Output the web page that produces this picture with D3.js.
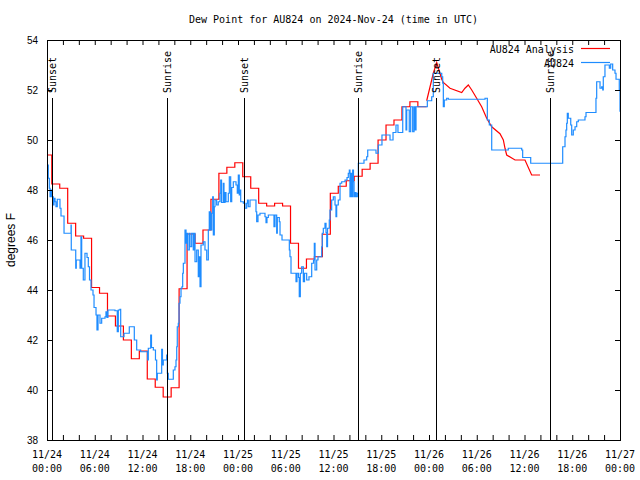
<!DOCTYPE html>
<html><head><meta charset="utf-8">
<script src="https://cdn.jsdelivr.net/npm/d3@7"></script>
<style>body{margin:0;background:#fff}</style>
</head><body>
<svg id="c" width="640" height="480"></svg>
<script>
const chartTitle = "Dew Point for AU824 on 2024-Nov-24 (time in UTC)";
const yAxisLabel = "degrees F";
const seriesNames = ["AU824 Analysis", "AU824"];
const seriesColors = ["#ff0000", "#1e8cff"];
const yTickValues = [38, 40, 42, 44, 46, 48, 50, 52, 54];
const xLabelHours = [0, 6, 12, 18, 24, 30, 36, 42, 48, 54, 60, 66, 72];
const xMinorHours = [0,2,4,6,8,10,12,14,16,18,20,22,24,26,28,30,32,34,36,38,40,42,44,46,48,50,52,54,56,58,60,62,64,66,68,70,72];
const sunEventHours = [0.69, 15.04, 24.79, 39.12, 48.88, 63.21];
const sunEventNames = ["Sunset", "Sunrise", "Sunset", "Sunrise", "Sunset", "Sunrise"];

// Analysis (red): hourly step part, then a continuous line part
const redStepHours = [0,0.6,1.6,2.6,3.6,4.6,5.6,6.6,7.6,8.6,9.6,10.6,11.6,12.6,13.6,14.6,15.6,16.6,17.6,18.6,19.6,20.6,21.6,22.6,23.6,24.6,25.6,26.6,27.6,28.6,29.6,30.6,31.6,32.6,33.6,34.6,35.6,36.6,37.6,38.6,39.6,40.6,41.6,42.6,43.6,44.6,45.6,46.6,47.71];
const redStepValues = [49.4,48.24,48.07,46.67,46.16,46.07,44.1,43.87,42.96,42.56,42.0,41.25,41.56,40.44,40.11,39.72,40.09,44.05,46.24,45.87,46.4,47.63,48.67,48.91,49.09,48.53,48.07,47.47,47.36,47.47,47.36,45.87,44.87,45.24,45.33,46.23,47.87,48.15,48.37,48.55,48.83,49.07,50.0,50.6,50.8,51.33,51.53,51.33,51.33];
const redLineHours = [47.71,48.54,48.97,49.60,49.80,50.64,52.11,52.52,52.94,53.37,53.99,54.62,55.25,55.88,56.92,57.34,57.55,57.76,58.81,60.06,60.90,61.95];
const redLineValues = [51.57,52.67,53.1,52.43,52.3,52.07,51.9,52.07,52.2,52.0,51.67,51.33,50.87,50.53,50.25,50.0,49.67,49.4,49.2,49.2,48.6,48.6];

// Observations (blue)
const blueHours = [0,0.16,0.29,0.38,0.50,0.57,0.79,0.88,1.01,1.13,1.29,1.63,1.76,2.14,3.02,3.05,3.61,3.68,4.15,4.27,4.36,4.56,4.77,5.03,5.19,5.34,5.53,5.78,5.91,6.16,6.28,6.41,6.66,6.87,7.29,7.41,7.54,7.66,8.54,8.83,8.96,9.17,9.26,9.68,10.34,10.97,11.27,11.77,12.65,12.73,13.03,13.13,13.36,13.63,13.78,13.86,14.41,14.51,14.61,15.04,15.12,15.24,15.87,16.08,16.21,16.30,16.37,16.50,16.59,16.71,16.84,16.96,17.05,17.13,17.34,17.47,17.55,17.68,17.88,17.97,18.18,18.38,18.51,18.60,18.81,19.01,19.14,19.23,19.35,19.64,19.85,20.07,20.27,20.39,20.54,20.70,20.82,20.90,21.02,21.11,21.32,21.52,21.74,21.83,21.93,22.15,22.24,22.37,22.49,22.78,22.91,23.08,23.21,23.41,23.75,23.91,24.04,24.16,24.25,24.34,24.67,24.88,25.09,25.19,25.29,25.51,26.26,26.35,26.51,26.76,27.39,27.52,27.64,27.81,28.52,28.65,28.86,28.94,29.19,29.28,29.53,30.45,30.53,30.66,31.29,31.41,31.60,31.70,31.83,32.00,32.21,32.36,32.63,32.92,33.26,33.49,33.59,33.68,33.89,34.05,34.52,34.59,34.72,34.93,35.06,35.15,35.25,35.47,35.56,35.77,35.98,36.19,36.31,36.40,36.60,36.82,37.03,37.45,37.70,37.86,37.99,38.07,38.16,38.29,38.41,38.51,38.58,38.70,38.83,38.99,39.12,39.83,40.17,40.30,41.34,41.63,42.09,43.10,43.48,43.85,44.10,44.70,45.11,45.20,45.52,45.70,45.95,46.12,46.24,46.37,47.79,48.34,48.54,49.60,49.72,49.80,49.92,50.22,50.43,55.04,55.33,55.58,55.88,57.96,59.65,59.77,60.78,64.80,65.09,65.21,65.30,65.38,65.50,65.81,65.93,66.13,66.35,66.56,66.76,67.60,67.73,68.98,69.07,69.49,69.70,69.83,69.90,70.11,70.66,70.83,71.08,71.37,71.50,71.91,72.0];
const blueValues = [49.0,48.47,48.07,47.73,48.0,47.73,47.4,47.67,47.53,47.33,47.63,47.27,46.96,46.27,46.6,45.6,44.87,45.2,44.87,46.13,44.87,44.4,45.47,45.3,44.93,44.4,44.0,43.8,43.3,43.0,42.4,43.0,42.67,42.87,42.93,43.13,42.9,43.2,43.17,42.33,43.2,43.23,42.13,42.27,42.53,42.0,41.6,41.53,41.2,41.67,42.2,41.7,41.6,41.2,40.4,40.67,41.63,41.0,41.2,41.4,40.67,40.43,40.8,40.93,41.2,41.73,42.53,42.67,43.47,43.73,44.07,44.13,44.67,45.07,46.4,45.87,46.27,45.6,46.27,45.73,46.27,45.6,46.27,45.13,45.6,44.53,45.33,44.13,45.8,45.93,45.6,45.2,46.4,47.13,46.4,47.07,47.73,46.2,47.33,47.6,47.4,47.53,47.87,48.4,47.5,48.27,47.5,47.9,47.53,47.87,48.53,47.53,48.1,48.33,48.2,47.87,48.6,47.8,48.0,47.53,47.47,47.27,47.47,47.6,47.33,47.6,47.13,46.73,47.0,47.07,46.93,46.69,46.9,47.0,46.53,47.0,46.27,46.9,46.73,46.2,46.0,45.6,45.33,44.67,44.33,44.67,44.5,43.73,44.67,44.93,44.33,44.67,44.4,44.53,45.07,45.2,45.87,44.8,45.2,45.33,45.73,46.27,46.47,46.67,46.3,45.73,46.47,46.8,47.2,47.6,47.73,47.4,46.93,47.4,47.6,48.27,48.33,48.4,48.5,48.67,48.8,47.73,48.67,47.73,48.8,48.33,47.73,47.9,47.73,47.87,49.07,49.2,49.33,49.6,49.47,49.8,50.2,50.0,50.3,50.6,50.3,51.33,50.4,51.2,50.33,51.33,50.33,51.33,50.4,51.33,51.57,51.73,52.67,52.53,52.27,51.33,51.6,51.67,51.63,51.67,50.8,50.6,49.6,49.67,49.6,49.3,49.07,49.73,50.13,50.4,50.67,51.07,50.87,50.6,50.2,50.4,50.53,50.73,50.8,50.93,51.1,51.67,52.33,52.07,52.13,52.0,52.53,53.0,52.87,53.04,52.8,52.67,52.43,52.0,51.13];

const MONO = "'DejaVu Sans Mono', monospace";
const SANS = "'Liberation Sans', Arial, sans-serif";
const svg = d3.select("#c");
svg.append("rect").attr("width",640).attr("height",480).attr("fill","#fff");

const t0 = Date.UTC(2024, 10, 24, 0, 0, 0);
const toDate = h => new Date(t0 + h * 3600e3);
const plot = {l: 47, r: 620, t: 40, b: 440};
const x = d3.scaleUtc().domain([toDate(0), toDate(72)]).range([plot.l, plot.r]);
const y = d3.scaleLinear().domain([38, 54]).range([plot.b, plot.t]);

// data lines
const lineStep = d3.line().x(d => x(toDate(d[0]))).y(d => y(d[1])).curve(d3.curveStepAfter);
const lineLin = d3.line().x(d => x(toDate(d[0]))).y(d => y(d[1]));
const redStep = redStepHours.map((h,i) => [h, redStepValues[i]]);
const redLin = redLineHours.map((h,i) => [h, redLineValues[i]]);
const blue = blueHours.map((h,i) => [h, blueValues[i]]);

svg.append("path").attr("d", lineStep(redStep)).attr("fill","none").attr("stroke",seriesColors[0]).attr("stroke-width",1.2);
svg.append("path").attr("d", lineLin(redLin)).attr("fill","none").attr("stroke",seriesColors[0]).attr("stroke-width",1.2);
svg.append("path").attr("d", lineStep(blue)).attr("fill","none").attr("stroke",seriesColors[1]).attr("stroke-width",1.2);

// sunrise / sunset markers
sunEventHours.forEach((h, i) => {
  const px = Math.round(x(toDate(h))) + 0.5;
  svg.append("line").attr("x1",px).attr("x2",px).attr("y1",98).attr("y2",plot.b)
    .attr("stroke","#000").attr("stroke-width",1);
  svg.append("text").attr("transform",`translate(${px},93) rotate(-90)`)
    .attr("dy","0.35em").attr("font-family",MONO).attr("font-size",10).attr("fill","#000")
    .text(sunEventNames[i]);
});

// axes (inward ticks on all sides)
const minorDates = xMinorHours.map(toDate);
const gB = svg.append("g").attr("transform",`translate(0,${plot.b})`)
  .call(d3.axisBottom(x).tickValues(minorDates).tickSize(-5).tickFormat(""));
const gT = svg.append("g").attr("transform",`translate(0,${plot.t})`)
  .call(d3.axisTop(x).tickValues(minorDates).tickSize(-5).tickFormat(""));
const gL = svg.append("g").attr("transform",`translate(${plot.l},0)`)
  .call(d3.axisLeft(y).tickValues(yTickValues).tickSize(-5).tickPadding(9).tickFormat(d3.format("d")));
const gR = svg.append("g").attr("transform",`translate(${plot.r},0)`)
  .call(d3.axisRight(y).tickValues(yTickValues).tickSize(-5).tickFormat(""));
[gB,gT,gL,gR].forEach(g => { g.select(".domain").remove(); g.selectAll("line").attr("stroke","#000"); });
gL.selectAll("text").attr("font-family",SANS).attr("font-size",10).attr("fill","#000");

svg.append("rect").attr("x",plot.l+0.5).attr("y",plot.t+0.5).attr("width",plot.r-plot.l).attr("height",plot.b-plot.t)
  .attr("fill","none").attr("stroke","#000").attr("stroke-width",1);

// x tick labels (two lines)
const fmtDay = d3.utcFormat("%m/%d"), fmtTime = d3.utcFormat("%H:%M");
xLabelHours.forEach(h => {
  const d = toDate(h), px = x(d);
  const t = svg.append("text").attr("x",px).attr("text-anchor","middle")
    .attr("font-family",MONO).attr("font-size",10).attr("fill","#000");
  t.append("tspan").attr("x",px).attr("y",458).text(fmtDay(d));
  t.append("tspan").attr("x",px).attr("y",472).text(fmtTime(d));
});

// title & y label
svg.append("text").attr("x",(plot.l+plot.r)/2).attr("y",23).attr("text-anchor","middle")
  .attr("font-family",MONO).attr("font-size",10).attr("fill","#000").text(chartTitle);
svg.append("text").attr("transform","translate(15,240) rotate(-90)").attr("text-anchor","middle")
  .attr("font-family",SANS).attr("font-size",12).attr("fill","#000").text(yAxisLabel);

// legend
seriesNames.forEach((name, i) => {
  const ly = 49 + i * 14;
  svg.append("text").attr("x",574).attr("y",ly).attr("dy","0.35em").attr("text-anchor","end")
    .attr("font-family",MONO).attr("font-size",10).attr("fill","#000").text(name);
  svg.append("line").attr("x1",581).attr("x2",610).attr("y1",ly-0.5).attr("y2",ly-0.5)
    .attr("stroke",seriesColors[i]).attr("stroke-width",1.2);
});
</script>
</body></html>
